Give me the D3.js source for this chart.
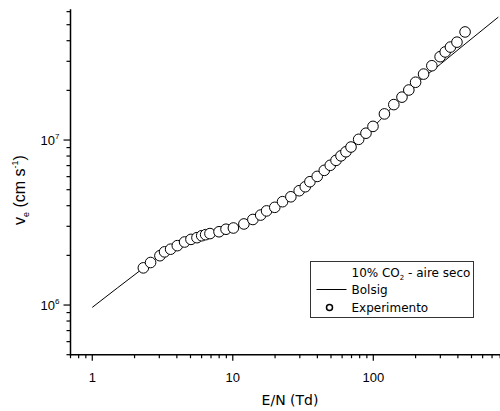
<!DOCTYPE html>
<html>
<head>
<meta charset="utf-8">
<script src="https://cdn.jsdelivr.net/npm/d3@7"></script>
<style>
  html, body { margin: 0; padding: 0; background: #fff; }
  svg { display: block; }
</style>
</head>
<body>
<svg id="chart" width="500" height="411"></svg>
<script>
// Electron drift velocity in 10% CO2 - dry air mixture

// Measured points: reduced field E/N (Td) and drift velocity (cm/s)
const expEN = [2.31, 2.60, 3.03, 3.27, 3.61, 4.03, 4.54, 5.04, 5.56, 6.01, 6.41, 6.88,
  7.98, 8.95, 10.1, 12.0, 13.9, 15.8, 17.4, 19.9, 22.6, 25.9, 29.7, 32.8, 35.4, 39.9,
  44.8, 49.4, 54.3, 58.9, 63.9, 69.4, 78.7, 88.7, 99.5, 120, 140, 160, 179, 200, 228,
  261, 299, 325, 354, 394, 450];
const expVe = [1.68e6, 1.81e6, 1.99e6, 2.10e6, 2.18e6, 2.29e6, 2.41e6, 2.50e6, 2.56e6,
  2.63e6, 2.67e6, 2.71e6, 2.78e6, 2.88e6, 2.93e6, 3.10e6, 3.30e6, 3.51e6, 3.72e6,
  3.91e6, 4.23e6, 4.53e6, 4.93e6, 5.21e6, 5.59e6, 6.02e6, 6.55e6, 7.03e6, 7.53e6,
  8.02e6, 8.49e6, 9.07e6, 1.01e7, 1.10e7, 1.21e7, 1.44e7, 1.64e7, 1.82e7, 2.01e7,
  2.24e7, 2.51e7, 2.82e7, 3.20e7, 3.42e7, 3.66e7, 3.92e7, 4.52e7];

// Bolsig+ solution
const bolsigEN = [1, 2.3, 3, 4, 5, 6.5, 8, 10, 12, 15, 20, 30, 40, 50, 70, 100, 150,
  205, 300, 450, 776];
const bolsigVe = [9.68e5, 1.67e6, 1.98e6, 2.28e6, 2.48e6, 2.68e6, 2.80e6, 2.94e6,
  3.12e6, 3.42e6, 3.93e6, 4.93e6, 6.0e6, 7.05e6, 9.1e6, 1.2e7, 1.72e7, 2.22e7,
  2.88e7, 3.82e7, 5.56e7];

// Axis ticks
const xTickLabels = [1, 10, 100];
const yTickLabels = [6, 7];   // exponents of 10

const svg = d3.select("#chart");

const x = d3.scaleLog().domain([0.7, 1000]).range([70.5, 513.8]);
const y = d3.scaleLog().domain([5e5, 6.2e7]).range([354.7, 9.3]);

const axisColor = "#000";
const tickFont = "'Liberation Sans', Arial, sans-serif";
const titleFont = "'DejaVu Sans', 'Liberation Sans', sans-serif";

// Minor/major tick positions
const xMinor = [];
[0.1, 1, 10, 100].forEach(d => { for (let k = 2; k <= 9; k++) xMinor.push(d * k); });
const xMinorIn = xMinor.filter(v => v >= 0.7 && v <= 1000);
const yMinor = [];
[1e5, 1e6, 1e7].forEach(d => { for (let k = 2; k <= 9; k++) yMinor.push(d * k); });
const yMinorIn = yMinor.filter(v => v >= 5e5 && v <= 6.2e7);

// Bolsig line
const line = d3.line()
  .x((d, i) => x(bolsigEN[i]))
  .y((d, i) => y(bolsigVe[i]))
  .curve(d3.curveMonotoneX);

svg.append("path")
  .datum(bolsigVe)
  .attr("d", line)
  .attr("fill", "none")
  .attr("stroke", "#000")
  .attr("stroke-width", 1);

// Experimental points
svg.append("g")
  .selectAll("circle")
  .data(expEN)
  .join("circle")
  .attr("cx", d => x(d))
  .attr("cy", (d, i) => y(expVe[i]))
  .attr("r", 5.3)
  .attr("fill", "#fff")
  .attr("stroke", "#000")
  .attr("stroke-width", 1);

// X axis
const gx = svg.append("g").attr("transform", `translate(0,${y(5e5)})`);
gx.append("line")
  .attr("x1", x(0.7)).attr("x2", 500)
  .attr("stroke", axisColor).attr("stroke-width", 1.5);
gx.selectAll("line.minor")
  .data(xMinorIn)
  .join("line")
  .attr("class", "minor")
  .attr("x1", d => x(d)).attr("x2", d => x(d))
  .attr("y1", 0).attr("y2", 3.5)
  .attr("stroke", axisColor).attr("stroke-width", 1.2);
gx.selectAll("line.major")
  .data(xTickLabels)
  .join("line")
  .attr("class", "major")
  .attr("x1", d => x(d)).attr("x2", d => x(d))
  .attr("y1", 0).attr("y2", 6)
  .attr("stroke", axisColor).attr("stroke-width", 1.2);
gx.selectAll("text")
  .data(xTickLabels)
  .join("text")
  .attr("x", d => x(d))
  .attr("y", 27)
  .attr("text-anchor", "middle")
  .attr("font-family", tickFont)
  .attr("font-size", 13)
  .text(d => d);

svg.append("text")
  .attr("x", 290)
  .attr("y", 405)
  .attr("text-anchor", "middle")
  .attr("font-family", titleFont)
  .attr("font-size", 14)
  .text("E/N (Td)");

// Y axis
const gy = svg.append("g").attr("transform", `translate(${x(0.7)},0)`);
gy.append("line")
  .attr("y1", y(6.2e7)).attr("y2", y(5e5) + 0.75)
  .attr("stroke", axisColor).attr("stroke-width", 1.5);
gy.selectAll("line.minor")
  .data(yMinorIn)
  .join("line")
  .attr("class", "minor")
  .attr("y1", d => y(d)).attr("y2", d => y(d))
  .attr("x1", 0).attr("x2", -4)
  .attr("stroke", axisColor).attr("stroke-width", 1.2);
gy.selectAll("line.major")
  .data(yTickLabels)
  .join("line")
  .attr("class", "major")
  .attr("y1", d => y(Math.pow(10, d))).attr("y2", d => y(Math.pow(10, d)))
  .attr("x1", 0).attr("x2", -7)
  .attr("stroke", axisColor).attr("stroke-width", 1.2);
const yt = gy.selectAll("text")
  .data(yTickLabels)
  .join("text")
  .attr("x", -11)
  .attr("y", d => y(Math.pow(10, d)) + 5)
  .attr("text-anchor", "end")
  .attr("font-family", tickFont)
  .attr("font-size", 13);
yt.append("tspan").text("10");
yt.append("tspan")
  .attr("dy", -6)
  .attr("font-size", 8)
  .text(d => d);

// Y axis title
const yTitle = svg.append("text")
  .attr("transform", "translate(25,190) rotate(-90)")
  .attr("text-anchor", "middle")
  .attr("font-family", tickFont)
  .attr("font-size", 16);
yTitle.append("tspan").text("v");
yTitle.append("tspan").attr("font-size", 9).attr("dy", 4).text("e");
yTitle.append("tspan").attr("dy", -4).text(" (cm s");
yTitle.append("tspan").attr("font-size", 9).attr("dy", -7).text("-1");
yTitle.append("tspan").attr("dy", 7).text(")");

// Legend
const lg = svg.append("g");
lg.append("rect")
  .attr("x", 310.5).attr("y", 261.5)
  .attr("width", 163).attr("height", 56)
  .attr("fill", "#fff")
  .attr("stroke", "#333").attr("stroke-width", 1);
const lt = lg.append("text")
  .attr("x", 351.5).attr("y", 276.5)
  .attr("font-family", titleFont)
  .attr("font-size", 12);
lt.append("tspan").text("10% CO");
lt.append("tspan").attr("font-size", 7).attr("dy", 3).text("2");
lt.append("tspan").attr("dy", -3).text(" - aire seco");
lg.append("line")
  .attr("x1", 316.5).attr("x2", 346.5)
  .attr("y1", 289.5).attr("y2", 289.5)
  .attr("stroke", "#000").attr("stroke-width", 1);
lg.append("text")
  .attr("x", 351.5).attr("y", 294)
  .attr("font-family", titleFont)
  .attr("font-size", 12)
  .text("Bolsig");
lg.append("circle")
  .attr("cx", 329.5).attr("cy", 307.5).attr("r", 3)
  .attr("fill", "#fff").attr("stroke", "#000").attr("stroke-width", 1.5);
lg.append("text")
  .attr("x", 351.5).attr("y", 312)
  .attr("font-family", titleFont)
  .attr("font-size", 12)
  .text("Experimento");
</script>
</body>
</html>
